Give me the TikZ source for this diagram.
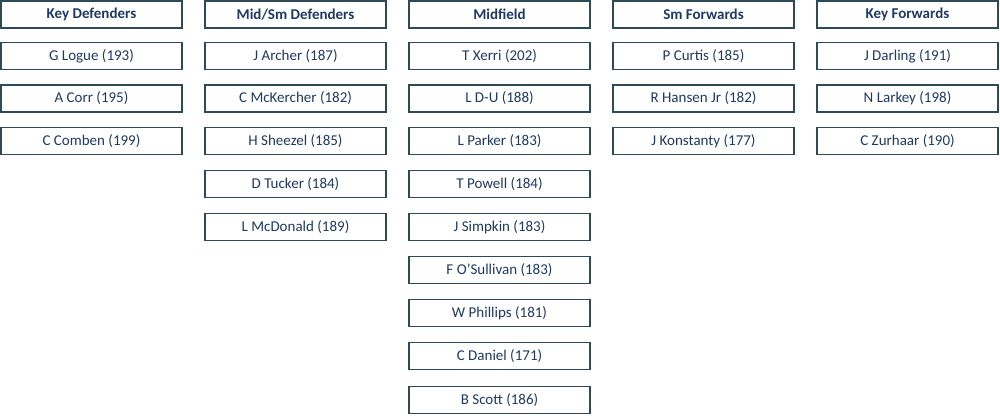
\documentclass[tikz,border=0pt]{standalone}
\usepackage{fontspec}
\setmainfont{Carlito}
\definecolor{navy}{HTML}{1F3864}
\definecolor{edge}{HTML}{2E4A57}
\tikzstyle{headBox}=[shape = rectangle, draw = edge, line width = 1.5pt, minimum width = 181pt, minimum height = 27pt, inner sep = 0pt, text = navy, font = \fontsize{15}{17}\selectfont\bfseries]
\tikzstyle{playerBox}=[shape = rectangle, draw = edge, line width = 1.5pt, minimum width = 181pt, minimum height = 27pt, inner sep = 0pt, text = navy, font = \fontsize{15}{17}\selectfont]

\begin{document}
\begin{tikzpicture}[x = 1pt, y = 1pt]
\useasboundingbox (0,0) rectangle (1000,-418);
% column headers
\node[headBox] (h0) at (91.5,-14.5) {Key Defenders};
\node[headBox] (h1) at (295.5,-14.5) {Mid/Sm Defenders};
\node[headBox] (h2) at (499.5,-14.5) {Midfield};
\node[headBox] (h3) at (703.5,-14.5) {Sm Forwards};
\node[headBox] (h4) at (907.5,-14.5) {Key Forwards};
% key defenders
\node[playerBox] (p00) at (91.5,-56) {G Logue (193)};
\node[playerBox] (p01) at (91.5,-98.5) {A Corr (195)};
\node[playerBox] (p02) at (91.5,-141) {C Comben (199)};
% mid/sm defenders
\node[playerBox] (p10) at (295.5,-56) {J Archer (187)};
\node[playerBox] (p11) at (295.5,-98.5) {C McKercher (182)};
\node[playerBox] (p12) at (295.5,-141) {H Sheezel (185)};
\node[playerBox] (p13) at (295.5,-184) {D Tucker (184)};
\node[playerBox] (p14) at (295.5,-227) {L McDonald (189)};
% midfield
\node[playerBox] (p20) at (499.5,-56) {T Xerri (202)};
\node[playerBox] (p21) at (499.5,-98.5) {L D-U (188)};
\node[playerBox] (p22) at (499.5,-141) {L Parker (183)};
\node[playerBox] (p23) at (499.5,-184) {T Powell (184)};
\node[playerBox] (p24) at (499.5,-227) {J Simpkin (183)};
\node[playerBox] (p25) at (499.5,-270) {F O’Sullivan (183)};
\node[playerBox] (p26) at (499.5,-313) {W Phillips (181)};
\node[playerBox] (p27) at (499.5,-356) {C Daniel (171)};
\node[playerBox] (p28) at (499.5,-400) {B Scott (186)};
% sm forwards
\node[playerBox] (p30) at (703.5,-56) {P Curtis (185)};
\node[playerBox] (p31) at (703.5,-98.5) {R Hansen Jr (182)};
\node[playerBox] (p32) at (703.5,-141) {J Konstanty (177)};
% key forwards
\node[playerBox] (p40) at (907.5,-56) {J Darling (191)};
\node[playerBox] (p41) at (907.5,-98.5) {N Larkey (198)};
\node[playerBox] (p42) at (907.5,-141) {C Zurhaar (190)};
\end{tikzpicture}
\end{document}
